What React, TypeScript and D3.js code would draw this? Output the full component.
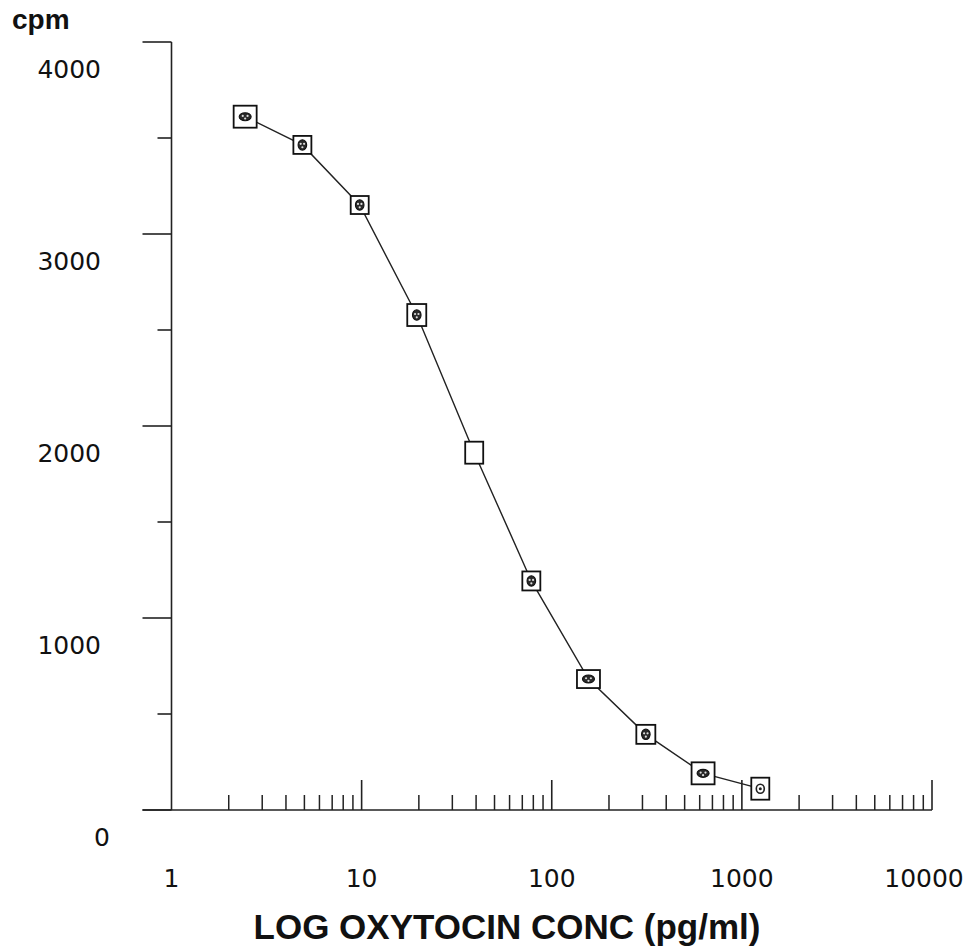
import React from 'react';
import * as d3 from 'd3';

// serial dilution standards (pg/ml) and the counts
const conc = [2.44, 4.88, 9.77, 19.5, 39.1, 78.1, 156, 312.5, 625, 1250];
const cpm = [3611, 3464, 3151, 2578, 1861, 1193, 682, 394, 191, 111];

const yMajor = [0, 1000, 2000, 3000, 4000];
const yMinor = [500, 1500, 2500, 3500];
const xMajor = [10, 100, 1000, 10000];
const xLabels = ['1', '10', '100', '1000', '10000'];
const xLabelVals = [1, 10, 100, 1000, 10000];

// marker look, one entry per standard
const boxW = [23, 18, 18, 19, 18, 18, 23, 19, 23, 18];
const boxH = [22, 18, 18, 22, 22, 19, 18, 19, 22, 22];
const glyph = ['oval', 'dots', 'dots', 'dots', 'none', 'dots', 'dots', 'dots', 'dots', 'ring'];

const W = 969, H = 946;
const numFont = '"DejaVu Sans", Verdana, sans-serif';
const boldFont = '"Liberation Sans", Arial, sans-serif';

const Marker = ({ cx, cy, w, h, kind }) => {
    const wide = w > h;
    const rx = wide ? 6 : 4.3;
    const ry = wide ? 4 : 5.2;
    return (
        <g transform={`translate(${cx},${cy})`}>
            <rect x={-w / 2} y={-h / 2} width={w} height={h} fill="#fff" stroke="#111" strokeWidth={1.8} />
            {kind === 'ring' && <g>
                <ellipse rx={4} ry={4.5} fill="none" stroke="#222" strokeWidth={1.6} />
                <circle r={1.5} fill="#222" />
            </g>}
            {(kind === 'dots' || kind === 'oval') && <g>
                <ellipse rx={rx} ry={ry} fill="#2a2a2a" stroke="#111" strokeWidth={1.1} />
                <circle cx={-rx * 0.4} cy={-ry * 0.2} r={1.1} fill="#ddd" />
                <circle cx={rx * 0.4} cy={-ry * 0.2} r={1.1} fill="#ddd" />
                <circle cx={0} cy={ry * 0.45} r={1.1} fill="#ddd" />
            </g>}
        </g>
    );
};

const App = () => {
    const x = d3.scaleLog().domain([1, 10000]).range([171.5, 932]);
    const y = d3.scaleLinear().domain([0, 4000]).range([810, 42]);

    const xMinor = [];
    [1, 10, 100, 1000].forEach(dec => {
        for (let k = 2; k <= 9; k++) xMinor.push(dec * k);
    });

    const pts = conc.map((c, i) => ({ c, v: cpm[i], i }));
    const line = d3.line()
        .x(d => x(d.c))
        .y(d => y(d.v));

    return (
        <svg width={W} height={H} style={{ position: 'absolute', left: 0, top: 0, background: '#fff' }}>
            {/* y axis */}
            <line x1={x(1)} x2={x(1)} y1={y(4000)} y2={y(0)} stroke="#222" strokeWidth={1.6} />
            {yMajor.map(v => (
                <line key={'ym' + v} x1={x(1) - 29} x2={x(1)} y1={y(v)} y2={y(v)} stroke="#222" strokeWidth={1.6} />
            ))}
            {yMinor.map(v => (
                <line key={'yn' + v} x1={x(1) - 14} x2={x(1)} y1={y(v)} y2={y(v)} stroke="#222" strokeWidth={1.6} />
            ))}
            {yMajor.map(v => (
                <text key={'yl' + v} x={v === 0 ? 110 : 101} y={y(v) + 36} textAnchor="end" fontFamily={numFont} fontSize={25} fill="#111">{v}</text>
            ))}

            {/* x axis */}
            <line x1={x(1) - 29} x2={x(10000)} y1={y(0)} y2={y(0)} stroke="#222" strokeWidth={1.6} />
            {xMajor.map(v => (
                <line key={'xm' + v} x1={x(v)} x2={x(v)} y1={y(0)} y2={y(0) - 30} stroke="#222" strokeWidth={1.6} />
            ))}
            {xMinor.map(v => (
                <line key={'xn' + v} x1={x(v)} x2={x(v)} y1={y(0)} y2={y(0) - 15} stroke="#222" strokeWidth={1.5} />
            ))}
            {xLabelVals.map((v, i) => (
                <text key={'xl' + v} x={Math.min(x(v), 924)} y={887} textAnchor="middle" fontFamily={numFont} fontSize={25} fill="#111">{xLabels[i]}</text>
            ))}

            <text x={12} y={29} fontFamily={boldFont} fontWeight="bold" fontSize={28} fill="#111">cpm</text>
            <text x={507} y={939} textAnchor="middle" fontFamily={boldFont} fontWeight="bold" fontSize={35} fill="#111">LOG OXYTOCIN CONC (pg/ml)</text>

            {/* standard curve */}
            <path d={line(pts)} fill="none" stroke="#222" strokeWidth={1.4} />
            {pts.map(d => (
                <Marker key={d.i} cx={x(d.c)} cy={y(d.v)} w={boxW[d.i]} h={boxH[d.i]} kind={glyph[d.i]} />
            ))}
        </svg>
    );
};

export default App;
